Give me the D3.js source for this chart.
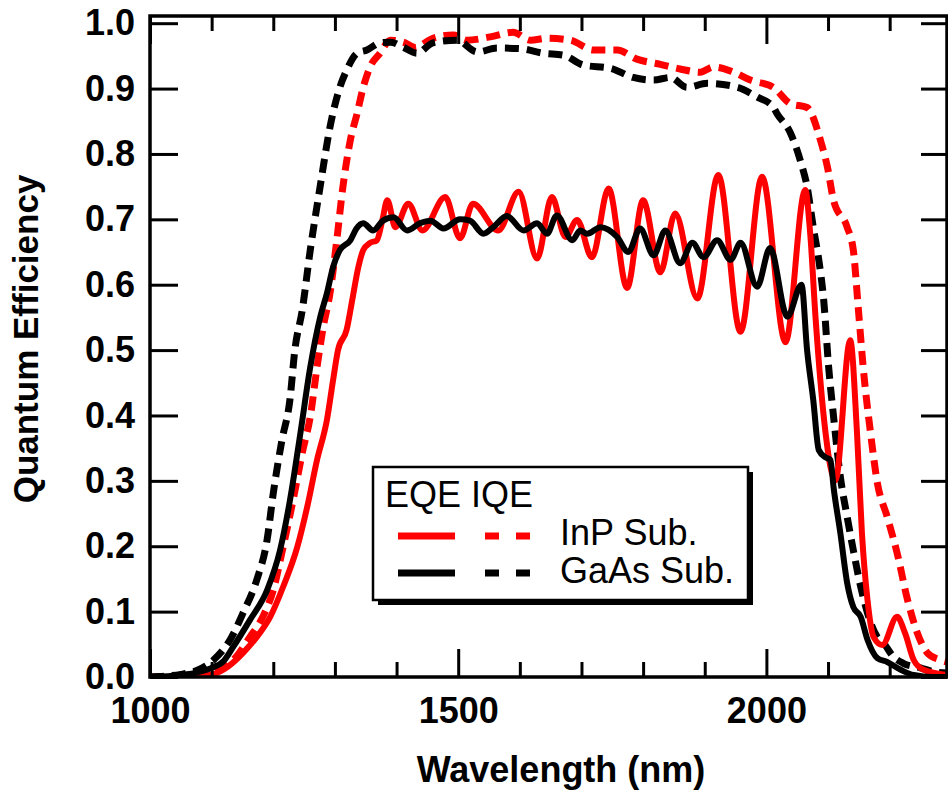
<!DOCTYPE html>
<html>
<head>
<meta charset="utf-8">
<script src="https://cdn.jsdelivr.net/npm/d3@7"></script>
<style>
  html, body { margin: 0; padding: 0; background: #fff; }
  #chart { width: 948px; height: 792px; }
  text { font-family: "Liberation Sans", Arial, Helvetica, sans-serif; fill: #000; }
</style>
</head>
<body>
<div id="chart"></div>
<script>
// Tick values
const xMajorTicks = [1000, 1500, 2000];
const xMinorTicks = [1100, 1200, 1300, 1400, 1600, 1700, 1800, 1900, 2100, 2200];
const yTicks = [0, 0.1, 0.2, 0.3, 0.4, 0.5, 0.6, 0.7, 0.8, 0.9, 1.0];

// InP substrate, EQE (solid red)
const inpEqeWl = [1000, 1050, 1097, 1125, 1151, 1173, 1195, 1216, 1239, 1255, 1271, 1287, 1297, 1305, 1319, 1328, 1338, 1346, 1357, 1368, 1377, 1385, 1398, 1419, 1442, 1479, 1503, 1524, 1565, 1598, 1628, 1652, 1674, 1693, 1717, 1744, 1774, 1800, 1828, 1852, 1888, 1922, 1958, 1993, 2031, 2063, 2071, 2080, 2096, 2104, 2112, 2136, 2147, 2155, 2164, 2174, 2188, 2212, 2225, 2239, 2255, 2293];
const inpEqe = [0, 0, 0.003, 0.015, 0.037, 0.061, 0.092, 0.138, 0.199, 0.26, 0.332, 0.393, 0.454, 0.5, 0.531, 0.576, 0.627, 0.653, 0.664, 0.668, 0.699, 0.729, 0.688, 0.724, 0.683, 0.734, 0.671, 0.724, 0.683, 0.742, 0.64, 0.734, 0.673, 0.699, 0.642, 0.747, 0.595, 0.729, 0.619, 0.709, 0.579, 0.768, 0.528, 0.765, 0.512, 0.745, 0.679, 0.546, 0.373, 0.321, 0.301, 0.515, 0.373, 0.22, 0.118, 0.061, 0.049, 0.092, 0.067, 0.026, 0.011, 0.003];

// InP substrate, IQE (dashed red)
const inpIqeWl = [1000, 1050, 1081, 1110, 1135, 1162, 1183, 1200, 1216, 1232, 1248, 1260, 1271, 1281, 1292, 1303, 1313, 1325, 1336, 1346, 1357, 1373, 1390, 1411, 1430, 1459, 1492, 1514, 1552, 1589, 1617, 1644, 1682, 1719, 1758, 1790, 1828, 1860, 1893, 1914, 1947, 1974, 2011, 2039, 2066, 2088, 2099, 2109, 2131, 2141, 2149, 2157, 2169, 2180, 2196, 2212, 2229, 2245, 2261, 2282, 2293];
const inpIqe = [0, 0.001, 0.003, 0.012, 0.026, 0.061, 0.092, 0.133, 0.199, 0.27, 0.347, 0.398, 0.474, 0.535, 0.587, 0.668, 0.75, 0.821, 0.862, 0.902, 0.933, 0.954, 0.974, 0.971, 0.963, 0.977, 0.982, 0.974, 0.979, 0.986, 0.974, 0.977, 0.974, 0.959, 0.959, 0.945, 0.937, 0.93, 0.925, 0.933, 0.925, 0.913, 0.902, 0.877, 0.871, 0.82, 0.78, 0.729, 0.688, 0.653, 0.565, 0.474, 0.373, 0.297, 0.245, 0.19, 0.118, 0.067, 0.037, 0.026, 0.023];

// GaAs substrate, EQE (solid black)
const gaasEqeWl = [1000, 1050, 1100, 1120, 1135, 1162, 1190, 1211, 1227, 1244, 1260, 1276, 1287, 1297, 1308, 1325, 1335, 1346, 1362, 1378, 1395, 1417, 1438, 1455, 1476, 1503, 1519, 1541, 1557, 1579, 1606, 1628, 1644, 1660, 1685, 1698, 1709, 1731, 1758, 1776, 1795, 1817, 1836, 1860, 1880, 1898, 1920, 1942, 1958, 1985, 2006, 2034, 2057, 2066, 2076, 2085, 2096, 2104, 2109, 2120, 2131, 2141, 2153, 2164, 2180, 2196, 2218, 2239, 2270, 2293];
const gaasEqe = [0, 0.003, 0.014, 0.025, 0.046, 0.087, 0.133, 0.194, 0.27, 0.373, 0.474, 0.55, 0.587, 0.627, 0.653, 0.668, 0.686, 0.694, 0.683, 0.698, 0.703, 0.683, 0.694, 0.698, 0.686, 0.7, 0.698, 0.678, 0.688, 0.705, 0.683, 0.694, 0.678, 0.706, 0.668, 0.683, 0.678, 0.688, 0.673, 0.65, 0.686, 0.645, 0.683, 0.633, 0.664, 0.642, 0.668, 0.638, 0.664, 0.597, 0.656, 0.551, 0.6, 0.5, 0.424, 0.347, 0.336, 0.332, 0.29, 0.22, 0.144, 0.107, 0.092, 0.057, 0.029, 0.023, 0.011, 0.003, 0, 0];

// GaAs substrate, IQE (dashed black)
const gaasIqeWl = [1000, 1050, 1076, 1103, 1130, 1151, 1173, 1190, 1200, 1214, 1227, 1235, 1247, 1260, 1276, 1292, 1308, 1319, 1336, 1352, 1373, 1390, 1411, 1433, 1459, 1498, 1531, 1563, 1601, 1638, 1671, 1703, 1747, 1784, 1817, 1844, 1871, 1904, 1953, 1985, 2011, 2017, 2039, 2055, 2066, 2076, 2085, 2093, 2101, 2109, 2120, 2131, 2141, 2153, 2164, 2180, 2190, 2206, 2222, 2250, 2271, 2293];
const gaasIqe = [0, 0.004, 0.01, 0.026, 0.057, 0.098, 0.148, 0.21, 0.281, 0.362, 0.424, 0.5, 0.561, 0.653, 0.75, 0.841, 0.902, 0.928, 0.954, 0.959, 0.97, 0.971, 0.963, 0.954, 0.97, 0.974, 0.956, 0.962, 0.961, 0.954, 0.951, 0.936, 0.931, 0.917, 0.913, 0.917, 0.902, 0.908, 0.902, 0.887, 0.872, 0.862, 0.832, 0.79, 0.75, 0.688, 0.638, 0.576, 0.474, 0.398, 0.306, 0.245, 0.194, 0.138, 0.098, 0.061, 0.052, 0.031, 0.021, 0.014, 0.008, 0.006];

// Legend labels
const legendHeader = "EQE IQE";
const legendNames = ["InP Sub.", "GaAs Sub."];

function createChart() {
    const container = d3.select("#chart");
    container.selectAll("*").remove();

    const svg = container.append("svg")
        .attr("width", 948)
        .attr("height", 792);

    const left = 150, right = 947, top = 16, bottom = 677;

    const xScale = d3.scaleLinear()
        .domain([1000, 2293])
        .range([left, right]);

    const yScale = d3.scaleLinear()
        .domain([0, 1.011])
        .range([bottom, top]);

    // Clip curves to the frame
    svg.append("clipPath")
        .attr("id", "plot-clip")
        .append("rect")
        .attr("x", left)
        .attr("y", top)
        .attr("width", right - left)
        .attr("height", bottom - top);

    const line = d3.line()
        .x(d => xScale(d[0]))
        .y(d => yScale(d[1]))
        .curve(d3.curveMonotoneX);

    const series = [
        { wl: inpIqeWl, qe: inpIqe, color: "#ff0000", dash: "14,8", width: 7 },
        { wl: gaasIqeWl, qe: gaasIqe, color: "#000000", dash: "14,8", width: 7 },
        { wl: inpEqeWl, qe: inpEqe, color: "#ff0000", dash: null, width: 6 },
        { wl: gaasEqeWl, qe: gaasEqe, color: "#000000", dash: null, width: 6 }
    ];

    const plot = svg.append("g").attr("clip-path", "url(#plot-clip)");

    series.forEach(s => {
        plot.append("path")
            .datum(s.wl.map((w, i) => [w, s.qe[i]]))
            .attr("d", line)
            .style("fill", "none")
            .style("stroke", s.color)
            .style("stroke-width", s.width)
            .style("stroke-linejoin", "round")
            .style("stroke-dasharray", s.dash);
    });

    // Axes (ticks pointing inward)
    const styleAxis = g => {
        g.select(".domain").remove();
        g.selectAll(".tick line").style("stroke", "#000").style("stroke-width", 3);
        g.selectAll(".tick text")
            .style("font-size", "36px")
            .style("font-weight", "bold")
            .style("fill", "#000");
    };

    svg.append("g")
        .attr("transform", `translate(0,${bottom})`)
        .call(d3.axisBottom(xScale).tickValues(xMajorTicks).tickSize(-28).tickPadding(20).tickFormat(d3.format("d")))
        .call(styleAxis);

    svg.append("g")
        .attr("transform", `translate(0,${bottom})`)
        .call(d3.axisBottom(xScale).tickValues(xMinorTicks).tickSize(-15).tickFormat(""))
        .call(styleAxis);

    svg.append("g")
        .attr("transform", `translate(0,${top})`)
        .call(d3.axisTop(xScale).tickValues(xMajorTicks).tickSize(-28).tickFormat(""))
        .call(styleAxis);

    svg.append("g")
        .attr("transform", `translate(0,${top})`)
        .call(d3.axisTop(xScale).tickValues(xMinorTicks).tickSize(-15).tickFormat(""))
        .call(styleAxis);

    svg.append("g")
        .attr("transform", `translate(${left},0)`)
        .call(d3.axisLeft(yScale).tickValues(yTicks).tickSize(-28).tickPadding(15).tickFormat(d3.format(".1f")))
        .call(styleAxis);

    svg.append("g")
        .attr("transform", `translate(${right},0)`)
        .call(d3.axisRight(yScale).tickValues(yTicks).tickSize(-26).tickFormat(""))
        .call(styleAxis);

    // Frame
    svg.append("rect")
        .attr("x", left)
        .attr("y", top)
        .attr("width", right - left)
        .attr("height", bottom - top)
        .style("fill", "none")
        .style("stroke", "#000")
        .style("stroke-width", 3.5);

    // Axis titles
    svg.append("text")
        .attr("x", 561)
        .attr("y", 782)
        .style("text-anchor", "middle")
        .style("font-size", "36px")
        .style("font-weight", "bold")
        .text("Wavelength (nm)");

    svg.append("text")
        .attr("transform", "translate(38,339) rotate(-90)")
        .style("text-anchor", "middle")
        .style("font-size", "35px")
        .style("font-weight", "bold")
        .text("Quantum Efficiency");

    // Legend
    const legend = svg.append("g").attr("transform", "translate(373,467)");
    const boxW = 375, boxH = 133;

    legend.append("rect")
        .attr("x", 5).attr("y", 5)
        .attr("width", boxW).attr("height", boxH)
        .style("fill", "#000");

    legend.append("rect")
        .attr("width", boxW).attr("height", boxH)
        .style("fill", "#fff")
        .style("stroke", "#000")
        .style("stroke-width", 2.5);

    legend.append("text")
        .attr("x", 12)
        .attr("y", 40)
        .style("font-size", "36px")
        .text(legendHeader);

    const legendColors = ["#ff0000", "#000000"];
    legendNames.forEach((name, i) => {
        const ly = 69 + i * 37;
        legend.append("line")
            .attr("x1", 25).attr("x2", 82)
            .attr("y1", ly).attr("y2", ly)
            .style("stroke", legendColors[i])
            .style("stroke-width", 7);
        legend.append("line")
            .attr("x1", 112).attr("x2", 157)
            .attr("y1", ly).attr("y2", ly)
            .style("stroke", legendColors[i])
            .style("stroke-width", 7)
            .style("stroke-dasharray", "14,17");
        legend.append("text")
            .attr("x", 187)
            .attr("y", ly + 9 + i * 1)
            .style("font-size", "36px")
            .text(name);
    });
}

createChart();
</script>
</body>
</html>
